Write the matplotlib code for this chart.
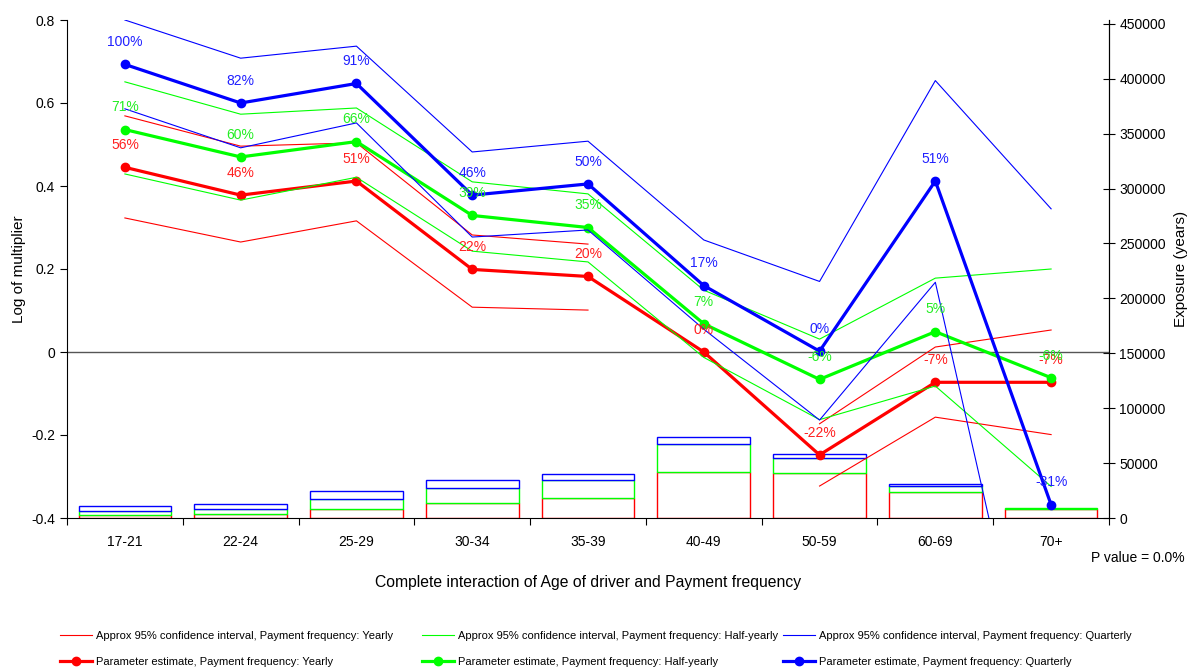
import numpy as np
import matplotlib
matplotlib.use('Agg')
import matplotlib.pyplot as plt

plt.rcParams['font.family'] = ['Liberation Sans', 'DejaVu Sans']

# ----------------------------------------
# Data
# ----------------------------------------
categories = ['17-21', '22-24', '25-29', '30-34', '35-39',
              '40-49', '50-59', '60-69', '70+']

# Parameter estimates (log of multiplier)
est_yearly = [0.445, 0.378, 0.412, 0.199, 0.182, 0.0, -0.248, -0.073, -0.073]
est_half = [0.536, 0.470, 0.507, 0.329, 0.300, 0.068, -0.066, 0.049, -0.062]
est_quarter = [0.693, 0.600, 0.647, 0.378, 0.405, 0.160, 0.002, 0.412, -0.368]

# Approx 95% confidence intervals (nan = no interval for base level)
ci_hi_yearly = [0.569, 0.496, 0.504, 0.282, 0.260, np.nan, -0.173, 0.012, 0.053]
ci_lo_yearly = [0.323, 0.265, 0.316, 0.108, 0.101, np.nan, -0.323, -0.157, -0.199]
ci_hi_half = [0.651, 0.573, 0.588, 0.410, 0.381, 0.149, 0.031, 0.178, 0.200]
ci_lo_half = [0.429, 0.366, 0.421, 0.243, 0.217, -0.013, -0.163, -0.082, -0.324]
ci_hi_quarter = [0.800, 0.708, 0.737, 0.482, 0.508, 0.270, 0.170, 0.654, 0.345]
ci_lo_quarter = [0.586, 0.492, 0.552, 0.277, 0.294, 0.055, -0.164, 0.168, -1.060]

# Exposure (years), per payment frequency
exp_yearly = [2700, 3200, 7900, 13900, 18500, 42200, 41300, 23300, 7900]
exp_half = [3700, 5300, 9700, 13700, 15800, 24900, 13100, 5500, 1500]
exp_quarter = [4200, 4500, 7000, 6700, 6000, 6700, 3600, 1800, 0]

p_value_text = 'P value = 0.0%'

RED = '#FF0000'
GREEN = '#00FF00'
BLUE = '#0000FF'
LABEL_COLS = {'Yearly': '#FF2020', 'Half-yearly': '#22EE22',
              'Quarterly': '#2020FF'}

W, H = 1191, 670
fig = plt.figure(figsize=(W / 100, H / 100), dpi=100)
ax = fig.add_axes([67 / W, 1 - 518 / H, (1109 - 67) / W, (518 - 20) / H])
ax2 = ax.twinx()
ax.set_zorder(ax2.get_zorder() + 1)
ax.patch.set_visible(False)

x = np.arange(len(categories))

# ----------------------------------------
# Exposure bars (stacked, secondary axis)
# ----------------------------------------
bottom = np.zeros(len(categories))
for vals, col in [(exp_yearly, RED), (exp_half, GREEN), (exp_quarter, BLUE)]:
    vals = np.array(vals, dtype=float)
    m = vals > 0
    ax2.bar(x[m], vals[m], bottom=bottom[m], width=0.8, facecolor='white',
            edgecolor=col, linewidth=1.0)
    bottom = bottom + vals

ax2.set_ylim(0, 453500)
ax2.set_yticks(np.arange(0, 450001, 50000))
ax2.set_ylabel('Exposure (years)', fontsize=11, labelpad=6)

# ----------------------------------------
# Estimates and confidence intervals
# ----------------------------------------
ax.axhline(0, color='#555555', linewidth=1.0, zorder=1)

series = [
    (est_yearly, ci_lo_yearly, ci_hi_yearly, RED, 'Yearly'),
    (est_half, ci_lo_half, ci_hi_half, GREEN, 'Half-yearly'),
    (est_quarter, ci_lo_quarter, ci_hi_quarter, BLUE, 'Quarterly'),
]

legend_groups = []
for est, lo, hi, col, name in series:
    ci_line, = ax.plot(x, hi, color=col, linewidth=0.8,
                       label='Approx 95% confidence interval, Payment frequency: ' + name)
    ax.plot(x, lo, color=col, linewidth=0.8)
    est_line, = ax.plot(x, est, color=col, linewidth=2.3, marker='o',
                        markersize=6,
                        label='Parameter estimate, Payment frequency: ' + name)
    legend_groups.append((ci_line, est_line))
    for xi, v in zip(x, est):
        pct = (np.exp(v) - 1) * 100
        ax.annotate(f'{pct:.0f}%', (xi, v), xytext=(0, 16),
                    textcoords='offset points', ha='center', va='center',
                    color=LABEL_COLS[name], fontsize=10, zorder=5)

ax.set_ylim(-0.4, 0.8)
ax.set_yticks([-0.4, -0.2, 0, 0.2, 0.4, 0.6, 0.8])
ax.set_yticklabels(['-0.4', '-0.2', '0', '0.2', '0.4', '0.6', '0.8'])
ax.set_xlim(-0.5, len(categories) - 0.5)
ax.set_ylabel('Log of multiplier', fontsize=11, labelpad=4)

# category labels in the middle, tick marks between categories
ax.set_xticks(np.arange(-0.5, len(categories)), minor=False)
ax.set_xticklabels([])
ax.set_xticks(x, minor=True)
ax.set_xticklabels(categories, minor=True)
ax.tick_params(axis='x', which='major', direction='out', length=5)
ax.tick_params(axis='x', which='minor', length=0, pad=12, labelsize=10)
ax.tick_params(axis='y', direction='out', length=5, labelsize=10)
ax2.tick_params(axis='y', direction='inout', length=8, labelsize=10)

for a in (ax, ax2):
    a.spines['top'].set_visible(False)
ax2.spines['left'].set_visible(False)
ax2.spines['bottom'].set_visible(False)

fig.text(588 / W, 1 - 583 / H,
         'Complete interaction of Age of driver and Payment frequency',
         ha='center', va='center', fontsize=11.3)
fig.text(1185 / W, 1 - 558 / H, p_value_text, ha='right', va='center',
         fontsize=10)

# ----------------------------------------
# Legend: three fixed-width columns
# ----------------------------------------
col_x = [60, 422, 783]
for cx, (h1, h2) in zip(col_x, legend_groups):
    fig.legend([h1, h2], [h1.get_label(), h2.get_label()],
               loc='upper left', bbox_to_anchor=(cx / W, 1 - 631 / H),
               frameon=False, fontsize=8, handlelength=2.9,
               handletextpad=0.3, borderpad=0, borderaxespad=0,
               labelspacing=1.45)

fig.savefig('out.png', dpi=100)
